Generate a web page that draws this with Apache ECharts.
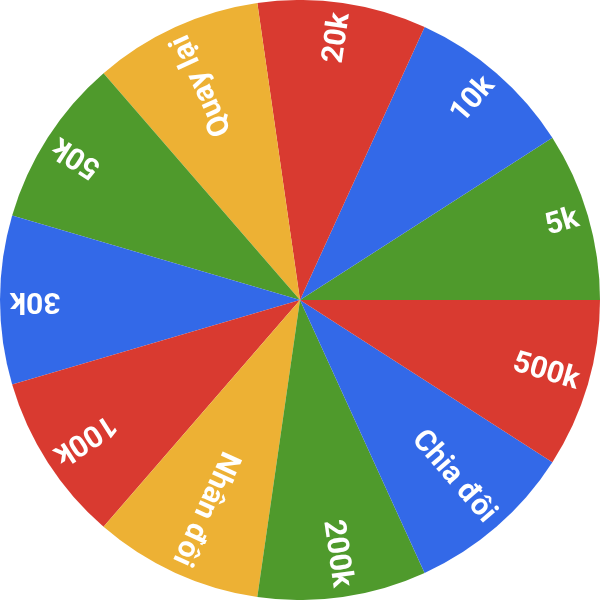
<!DOCTYPE html>
<html>
<head>
<meta charset="utf-8">
<script src="https://cdn.jsdelivr.net/npm/echarts@6/dist/echarts.min.js"></script>
<style>html,body{margin:0;padding:0;background:#fff;}#c{width:600px;height:600px;}</style>
</head>
<body>
<div id="c"></div>
<script>
// Wheel slices, counter-clockwise starting from the east (3 o'clock)
const categories = ['5k', '10k', '20k', 'Quay lại', '50k', '30k', '100k', 'Nhân đôi', '200k', 'Chia đôi', '500k'];
const values = [1, 1, 1, 1, 1, 1, 1, 1, 1, 1, 1];
const palette = ['#4f9a2c', '#3369e8', '#d93a30', '#edb134'];

const chart = echarts.init(document.getElementById('c'), null, { renderer: 'canvas' });

const option = {
  animation: false,
  series: [{
    type: 'pie',
    center: ['50%', '50%'],
    radius: ['0%', '100%'],
    startAngle: 0,
    clockwise: false,
    silent: true,
    data: categories.map((c, i) => ({
      name: c,
      value: values[i],
      itemStyle: { color: palette[i % palette.length] }
    })),
    itemStyle: { borderWidth: 0 },
    label: {
      show: true,
      position: 'inside',
      formatter: '{b}',
      color: '#ffffff',
      fontFamily: 'Roboto, Arial, sans-serif',
      fontWeight: 'bold',
      fontSize: 30
    },
    labelLine: { show: false },
    labelLayout: function (p) {
      const total = values.reduce((a, b) => a + b, 0);
      let before = 0;
      for (let k = 0; k < p.dataIndex; k++) before += values[k];
      const mid = (before + values[p.dataIndex] / 2) / total * 360;
      const rad = mid * Math.PI / 180;
      const cx = chart.getWidth() / 2, cy = chart.getHeight() / 2;
      const R = Math.min(cx, cy) * (290 / 300);
      return {
        x: cx + R * Math.cos(rad),
        y: cy - R * Math.sin(rad),
        rotate: mid,
        align: 'right',
        verticalAlign: 'middle'
      };
    }
  }]
};
chart.setOption(option);
</script>
</body>
</html>
